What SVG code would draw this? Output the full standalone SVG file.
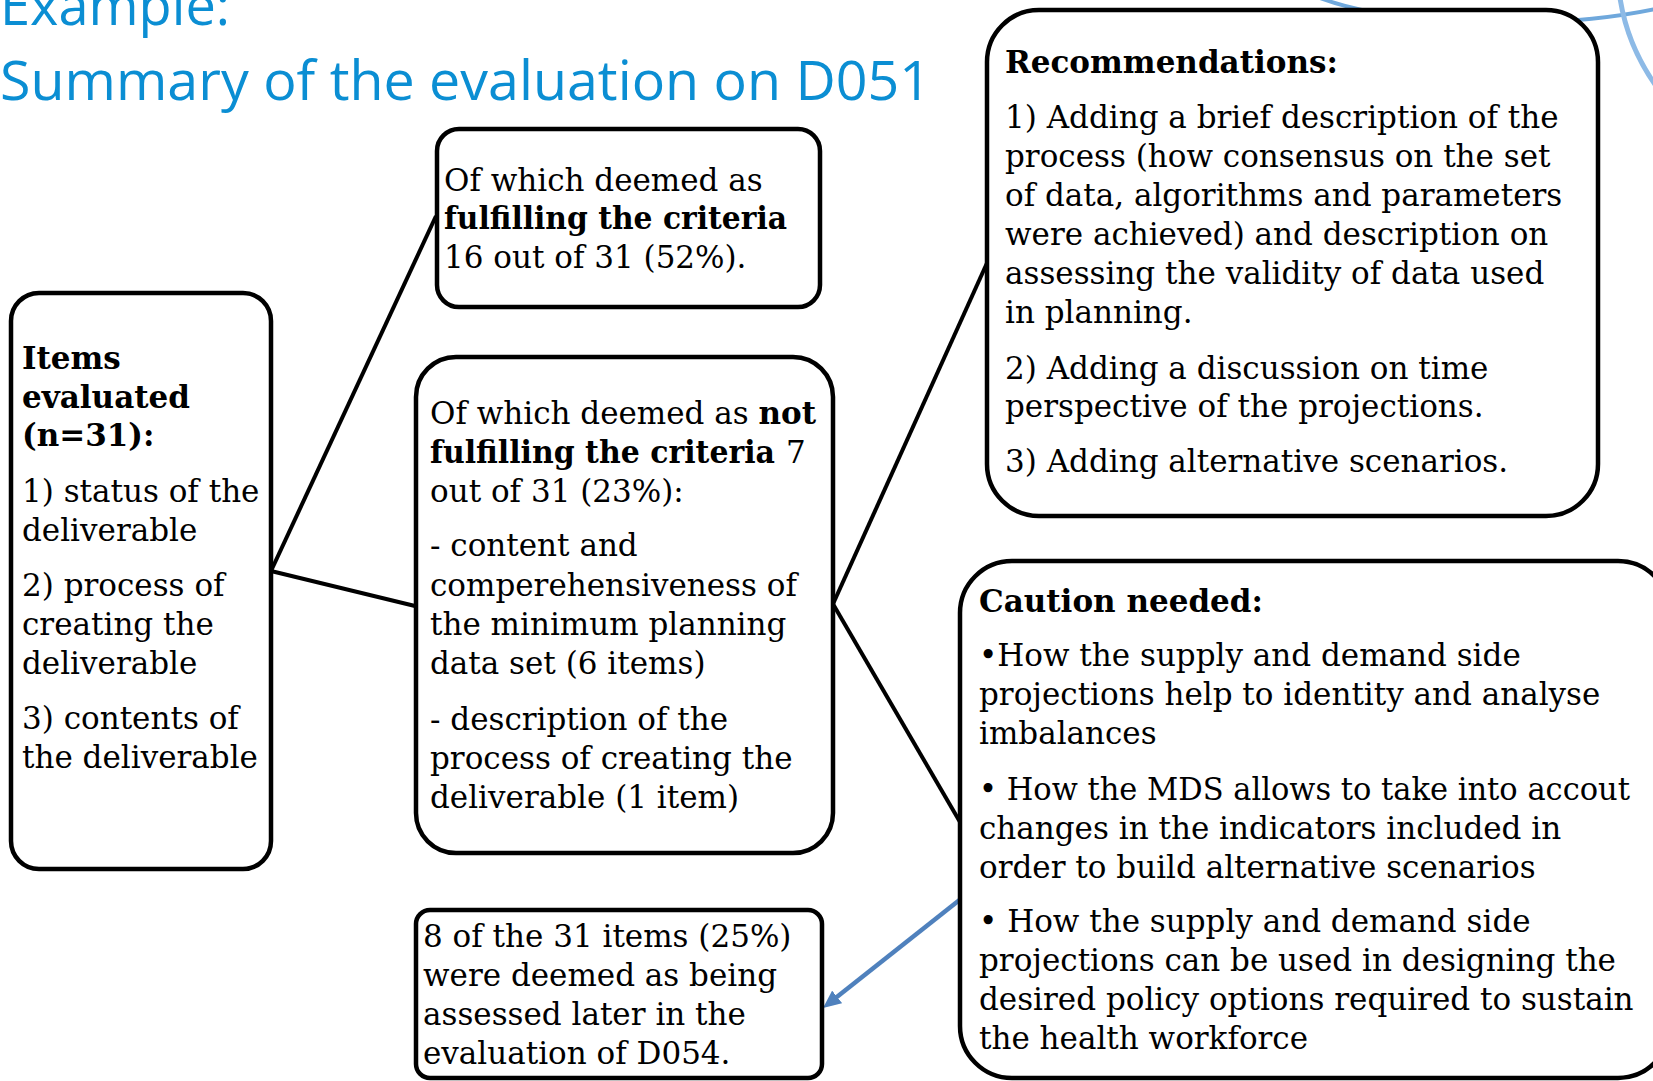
<svg xmlns="http://www.w3.org/2000/svg" width="1653" height="1081" viewBox="0 0 1653 1081">
<style>
.box{fill:#fff;stroke:#000;stroke-width:4.5}
.t{font-family:"DejaVu Serif","Liberation Serif",serif;font-size:31px;fill:#000}
.b{font-weight:bold}
.title{font-family:"Open Sans","Lato","Liberation Sans",sans-serif;font-size:54px;fill:#0B8ED3}
.con{stroke:#000;stroke-width:4;fill:none}
.blue{stroke:#4F81BD;stroke-width:4.5;fill:none}
.deco{fill:none;stroke-linecap:round}
</style>
<defs>
<marker id="arr" viewBox="0 0 18 16" refX="6" refY="8" markerWidth="18" markerHeight="16" markerUnits="userSpaceOnUse" orient="auto">
<path d="M0,0 L18,8 L0,16 z" fill="#4F81BD"/>
</marker>
</defs>
<rect width="1653" height="1081" fill="#fff"/>
<g id="decoration">
<path class="deco" d="M1320,-2 C1400,28 1560,30 1660,8" stroke="#6FA8DC" stroke-width="4"/>
<path class="deco" d="M1620,-2 Q1628,50 1662,94" stroke="#8DBAE6" stroke-width="5"/>
</g>
<g id="title">
<text class="title" x="0" y="25" textLength="230" lengthAdjust="spacingAndGlyphs">Example:</text>
<text class="title" x="0" y="100" textLength="931" lengthAdjust="spacingAndGlyphs">Summary of the evaluation on D051</text>
</g>
<g id="connectors">
<line class="con" x1="271" y1="571" x2="436" y2="216"/>
<line class="con" x1="271" y1="571" x2="415" y2="606"/>
<line class="con" x1="833" y1="604" x2="987" y2="263"/>
<line class="con" x1="833" y1="604" x2="960" y2="822"/>
<line class="blue" x1="962" y1="898" x2="832.4" y2="1000.6" marker-end="url(#arr)"/>
</g>
<g id="items">
<rect class="box" x="11" y="293" width="260" height="576" rx="28"/>
<text class="t b" x="22" y="369">Items</text>
<text class="t b" x="22" y="408">evaluated</text>
<text class="t b" x="22" y="446">(n=31):</text>
<text class="t" x="22" y="502">1) status of the</text>
<text class="t" x="22" y="541">deliverable</text>
<text class="t" x="22" y="596">2) process of</text>
<text class="t" x="22" y="635">creating the</text>
<text class="t" x="22" y="674">deliverable</text>
<text class="t" x="22" y="729">3) contents of</text>
<text class="t" x="22" y="768">the deliverable</text>
</g>
<g id="fulfilling">
<rect class="box" x="437" y="129" width="383" height="178" rx="22"/>
<text class="t" x="444" y="191">Of which deemed as</text>
<text class="t b" x="444" y="229" textLength="343" lengthAdjust="spacingAndGlyphs">fulfilling the criteria</text>
<text class="t" x="444" y="268">16 out of 31 (52%).</text>
</g>
<g id="not-fulfilling">
<rect class="box" x="416" y="357" width="417" height="496" rx="40"/>
<text class="t" x="430" y="424">Of which deemed as <tspan class="b">not</tspan></text>
<text class="t b" x="430" y="463" textLength="345" lengthAdjust="spacingAndGlyphs">fulfilling the criteria</text>
<text class="t" x="786" y="463">7</text>
<text class="t" x="430" y="502">out of 31 (23%):</text>
<text class="t" x="430" y="556">- content and</text>
<text class="t" x="430" y="596">comperehensiveness of</text>
<text class="t" x="430" y="635">the minimum planning</text>
<text class="t" x="430" y="674">data set (6 items)</text>
<text class="t" x="430" y="730">- description of the</text>
<text class="t" x="430" y="769">process of creating the</text>
<text class="t" x="430" y="808">deliverable (1 item)</text>
</g>
<g id="later">
<rect class="box" x="416" y="910" width="406" height="168" rx="14"/>
<text class="t" x="423" y="947">8 of the 31 items (25%)</text>
<text class="t" x="423" y="986">were deemed as being</text>
<text class="t" x="423" y="1025">assessed later in the</text>
<text class="t" x="423" y="1064">evaluation of D054.</text>
</g>
<g id="recommendations">
<rect class="box" x="987" y="10" width="611" height="506" rx="52"/>
<text class="t b" x="1005" y="73">Recommendations:</text>
<text class="t" x="1005" y="128">1) Adding a brief description of the</text>
<text class="t" x="1005" y="167">process (how consensus on the set</text>
<text class="t" x="1005" y="206">of data, algorithms and parameters</text>
<text class="t" x="1005" y="245">were achieved) and description on</text>
<text class="t" x="1005" y="284">assessing the validity of data used</text>
<text class="t" x="1005" y="323">in planning.</text>
<text class="t" x="1005" y="379">2) Adding a discussion on time</text>
<text class="t" x="1005" y="417">perspective of the projections.</text>
<text class="t" x="1005" y="472">3) Adding alternative scenarios.</text>
</g>
<g id="caution">
<rect class="box" x="960" y="561" width="710" height="517" rx="52"/>
<text class="t b" x="979" y="612">Caution needed:</text>
<text class="t" x="979" y="666">•How the supply and demand side</text>
<text class="t" x="979" y="705">projections help to identity and analyse</text>
<text class="t" x="979" y="744">imbalances</text>
<text class="t" x="979" y="800" textLength="651" lengthAdjust="spacingAndGlyphs">• How the MDS allows to take into accout</text>
<text class="t" x="979" y="839">changes in the indicators included in</text>
<text class="t" x="979" y="878">order to build alternative scenarios</text>
<text class="t" x="979" y="932">• How the supply and demand side</text>
<text class="t" x="979" y="971">projections can be used in designing the</text>
<text class="t" x="979" y="1010">desired policy options required to sustain</text>
<text class="t" x="979" y="1049">the health workforce</text>
</g>
</svg>
